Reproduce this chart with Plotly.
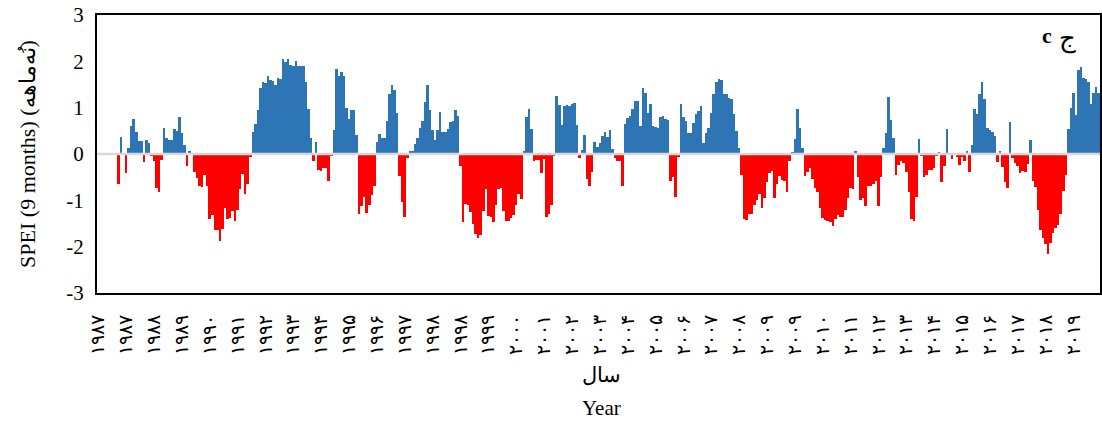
import plotly.graph_objects as go

# SPEI (9 months), monthly, Jan 1987 .. Dec 2019 (first 8 months undefined)
spei = [
    None, None, None, None, None, None, None, None,
    -0.64, 0.36, 0.0, -0.40, 0.12, 0.61, 0.75, 0.48, 0.27, 0.27, -0.18, 0.30,
    0.24, -0.04, -0.16, -0.74, -0.82, -0.14, 0.57, 0.34, 0.30, 0.30,
    0.53, 0.50, 0.80, 0.45, 0.19, -0.25, 0.06, -0.02, -0.38, -0.52,
    -0.68, -0.71, -0.46, -0.70, -1.41, -1.32, -1.64, -1.64, -1.88, -1.61,
    -1.16, -1.41, -1.38, -1.23, -1.45, -1.21, -0.76, -0.44, -0.87, -0.64,
    -0.07, 0.48, 0.64, 0.94, 1.43, 1.56, 1.54, 1.68, 1.59, 1.57,
    1.49, 1.63, 1.61, 2.04, 1.99, 2.04, 1.93, 1.89, 2.00, 1.89,
    1.89, 1.89, 1.55, 0.98, 0.34, -0.16, 0.25, -0.34, -0.36, -0.31,
    -0.31, -0.59, -0.05, 0.52, 1.84, 1.69, 1.78, 1.69, 0.99, 0.75,
    0.96, 0.94, 0.42, -1.30, -1.12, -0.93, -1.27, -1.11, -0.89, -0.70,
    0.26, 0.44, 0.35, 0.35, 0.71, 1.29, 1.48, 1.39, 0.89, -0.48,
    -1.04, -1.36, -0.09, 0.07, 0.06, 0.21, 0.34, 0.56, 0.71, 1.13,
    1.50, 0.95, 0.52, 0.31, 0.51, 0.91, 0.48, 0.48, 0.54, 0.69,
    0.71, 0.94, 0.82, -0.25, -1.46, -1.07, -1.11, -1.25, -1.51, -1.73,
    -1.81, -1.75, -1.24, -0.75, -1.34, -1.37, -1.46, -1.11, -0.76, -0.74,
    -1.24, -1.45, -1.45, -1.39, -1.32, -1.11, -0.86, -0.98, 0.07, 0.79,
    0.98, 0.55, -0.16, -0.12, -0.13, -0.41, -0.10, -1.36, -1.30, -1.09,
    -0.03, 1.26, 1.05, 0.63, 1.04, 1.06, 1.04, 1.09, 1.11, 0.63,
    -0.09, 0.09, 0.41, -0.55, -0.69, -0.39, 0.25, 0.16, 0.24, 0.39,
    0.47, 0.36, 0.52, 0.11, -0.08, -0.16, -0.15, -0.68, 0.64, 0.78,
    0.83, 0.97, 1.14, 1.14, 0.61, 1.42, 1.32, 0.88, 1.09, 0.60,
    0.59, 0.57, 0.80, 0.82, 0.75, 0.73, -0.59, -0.50, -0.93, -0.07,
    1.07, 0.79, 0.71, 0.45, 0.45, 0.66, 0.87, 0.93, 1.04, 0.24,
    0.45, 0.56, 0.89, 1.29, 1.55, 1.61, 1.59, 1.29, 1.29, 1.20,
    1.19, 0.87, 0.49, 0.13, -0.46, -1.40, -1.42, -1.30, -1.30, -1.10,
    -1.00, -0.86, -1.16, -0.96, -0.61, -0.40, -0.37, -0.95, -0.64, -0.47,
    -0.57, -0.58, -0.82, -0.16, 0.05, 0.32, 0.98, 0.57, 0.12, -0.48,
    -0.39, -0.30, -0.54, -0.74, -0.82, -1.16, -1.38, -1.43, -1.44, -1.46,
    -1.55, -1.41, -1.31, -1.36, -1.36, -1.20, -0.94, -0.74, -0.75, 0.06,
    -0.49, -1.00, -0.95, -1.12, -0.69, -0.69, -0.64, -0.59, -1.13, -0.49,
    0.12, 0.46, 1.23, 0.74, 0.34, -0.46, -0.24, -0.16, -0.19, -0.39,
    -0.82, -1.41, -1.45, -0.93, 0.32, -0.04, -0.49, -0.45, -0.34, -0.34,
    -0.31, -0.05, 0.04, -0.61, -0.26, 0.54, 0.02, -0.11, -0.02, -0.07,
    -0.23, -0.07, -0.16, 0.06, -0.38, 0.20, 0.98, 0.86, 1.29, 1.56,
    1.19, 0.57, 0.51, 0.48, 0.39, -0.18, 0.06, -0.29, -0.61, -0.74,
    0.68, -0.09, -0.20, -0.26, -0.41, -0.36, -0.39, -0.21, 0.31, -0.59,
    -0.71, -1.21, -1.64, -1.81, -1.95, -2.16, -1.93, -1.70, -1.59, -1.54,
    -1.30, -0.79, -0.46, 0.55, 0.99, 1.31, 0.84, 1.81, 1.88, 1.64,
    1.61, 1.56, 1.07, 1.32, 1.44, 1.32,
]

# Category labels shown on the x axis (every 11th month, as in the original)
tick_labels = [
    "۱۹۸۷", "۱۹۸۷", "۱۹۸۸", "۱۹۸۹", "۱۹۹۰", "۱۹۹۱", "۱۹۹۲", "۱۹۹۳", "۱۹۹۴",
    "۱۹۹۵", "۱۹۹۶", "۱۹۹۷", "۱۹۹۸", "۱۹۹۸", "۱۹۹۹", "۲۰۰۰", "۲۰۰۱", "۲۰۰۲",
    "۲۰۰۳", "۲۰۰۴", "۲۰۰۵", "۲۰۰۶", "۲۰۰۷", "۲۰۰۸", "۲۰۰۹", "۲۰۰۹", "۲۰۱۰",
    "۲۰۱۱", "۲۰۱۲", "۲۰۱۳", "۲۰۱۴", "۲۰۱۵", "۲۰۱۶", "۲۰۱۷", "۲۰۱۸", "۲۰۱۹",
]
tick_step = 11

y_tick_vals = [-3, -2, -1, 0, 1, 2, 3]
y_tick_text = ["-3", "-2", "-1", "0", "1", "2", "3"]

y_title = "SPEI (9 months) (نُه‌ماهه)"
x_title_fa = "سال"
x_title_en = "Year"
panel_label_en = "<b>c</b>"
panel_label_fa = "ج"

BLUE = "#2E75B6"
RED = "#FF0000"
FONT = "Liberation Serif, Times New Roman, serif"

x = list(range(len(spei)))
colors = [RED if (v is not None and v < 0) else BLUE for v in spei]

fig = go.Figure()
fig.add_trace(go.Bar(
    x=x, y=spei, marker=dict(color=colors, line=dict(width=0)),
    showlegend=False, hoverinfo="x+y",
))

fig.add_shape(type="line", xref="paper", x0=0, x1=1, yref="y", y0=0, y1=0,
              line=dict(color="#D9D9D9", width=2.5), layer="above")

fig.update_layout(
    width=1102, height=425,
    margin=dict(l=97, r=2, t=15, b=132),
    paper_bgcolor="white", plot_bgcolor="white",
    bargap=0,
    font=dict(family=FONT, size=21, color="black"),
    xaxis=dict(
        automargin=False,
        range=[-0.5, len(spei) - 0.5],
        tickmode="array",
        tickvals=list(range(0, len(spei), tick_step)),
        ticktext=tick_labels,
        tickangle=-90,
        tickfont=dict(size=19, family=FONT),
        ticklabelstandoff=12,
        showgrid=False, zeroline=False,
        showline=True, linecolor="black", linewidth=2, mirror=True,
        ticks="",
    ),
    yaxis=dict(
        automargin=False,
        range=[-3, 3],
        tickmode="array", tickvals=y_tick_vals, ticktext=y_tick_text,
        ticklabeloverflow="allow",
        showgrid=False, zeroline=False,
        showline=True, linecolor="black", linewidth=2, mirror=True,
        ticks="", ticklabelstandoff=7,
        tickfont=dict(size=21, family=FONT),
        title=dict(text=y_title, font=dict(size=22, family=FONT), standoff=25),
    ),
    annotations=[
        dict(text=x_title_fa, xref="paper", yref="paper", x=0.5025, y=-0.295,
             xanchor="center", yanchor="middle",
             showarrow=False, font=dict(size=21, family=FONT)),
        dict(text=x_title_en, xref="paper", yref="paper", x=0.5025, y=-0.414,
             xanchor="center", yanchor="middle",
             showarrow=False, font=dict(size=21, family=FONT)),
        dict(text=panel_label_en, xref="paper", yref="paper", x=0.947, y=0.925,
             xanchor="center", yanchor="middle",
             showarrow=False, font=dict(size=22, family=FONT)),
        dict(text=panel_label_fa, xref="paper", yref="paper", x=0.968, y=0.912,
             xanchor="center", yanchor="middle",
             showarrow=False, font=dict(size=26, family=FONT)),
    ],
)

fig.write_html(
    "out.html",
    config={"displayModeBar": False},
    post_script="document.body.style.margin = '0px';",
)
